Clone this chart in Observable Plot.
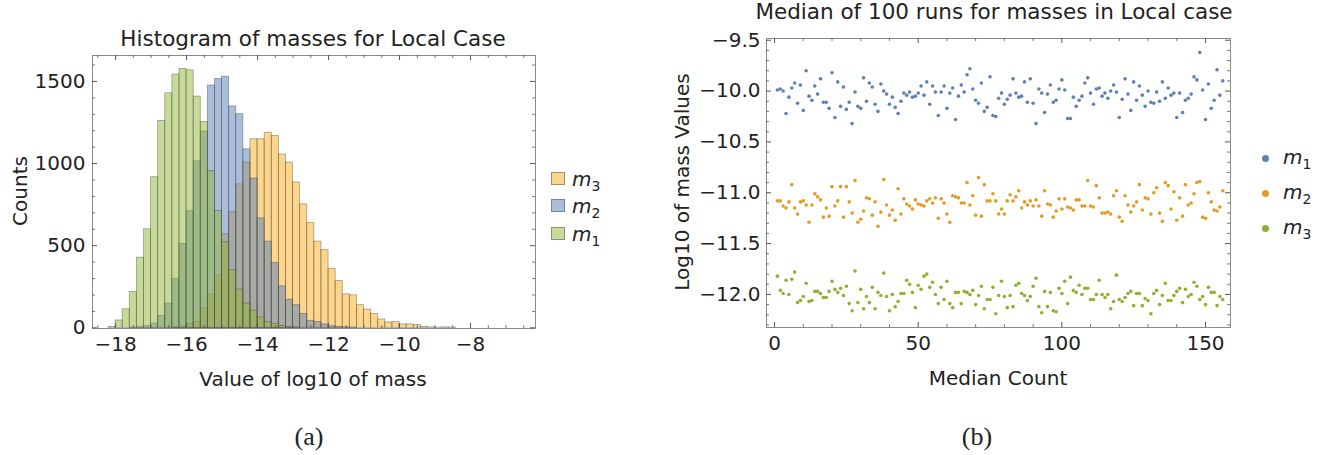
<!DOCTYPE html>
<html><head><meta charset="utf-8">
<script src="https://cdn.jsdelivr.net/npm/d3@7"></script>
<script src="https://cdn.jsdelivr.net/npm/@observablehq/plot@0.6"></script>
<style>
body{margin:0;background:#fff;width:1335px;height:455px;position:relative;overflow:hidden;font-family:"DejaVu Sans",Verdana,sans-serif;color:#222}
.abs{position:absolute;white-space:nowrap;line-height:1}
.t{font-size:20px}
.ttl{font-size:21.5px}
.cap{font-family:"Liberation Serif","DejaVu Serif",serif;font-size:26px}
.sw{position:absolute;width:14px;height:13px;box-sizing:border-box;border:1px solid rgba(60,60,60,0.45)}
.dot{position:absolute;width:7px;height:7px;border-radius:50%}
sub{font-size:14px;vertical-align:-5px;font-style:normal}
</style></head>
<body>
<div id="left" class="abs" style="left:0;top:0"></div>
<div id="right" class="abs" style="left:640px;top:0"></div>

<div class="abs ttl" style="left:313px;top:28px;transform:translateX(-50%)">Histogram of masses for Local Case</div>
<div class="abs t" style="left:313px;top:369px;transform:translateX(-50%)">Value of log10 of mass</div>
<div class="abs t" style="left:20px;top:191px;transform:translate(-50%,-50%) rotate(-90deg)">Counts</div>

<div class="abs ttl" style="left:994px;top:1px;transform:translateX(-50%)">Median of 100 runs for masses in Local case</div>
<div class="abs t" style="left:998px;top:368px;transform:translateX(-50%)">Median Count</div>
<div class="abs t" style="left:682px;top:182px;transform:translate(-50%,-50%) rotate(-90deg)">Log10 of mass Values</div>

<div id="legA"></div>
<div id="legB"></div>

<div class="abs cap" style="left:309px;top:437px;transform:translate(-50%,-50%)">(a)</div>
<div class="abs cap" style="left:977px;top:437px;transform:translate(-50%,-50%)">(b)</div>

<script>
// ---------- Panel (a): histogram ----------
const binStart = [-18.4,-18.2,-18.0,-17.8,-17.6,-17.4,-17.2,-17.0,-16.8,-16.6,-16.4,-16.2,-16.0,-15.8,-15.6,-15.4,-15.2,-15.0,-14.8,-14.6,-14.4,-14.2,-14.0,-13.8,-13.6,-13.4,-13.2,-13.0,-12.8,-12.6,-12.4,-12.2,-12.0,-11.8,-11.6,-11.4,-11.2,-11.0,-10.8,-10.6,-10.4,-10.2,-10.0,-9.8,-9.6,-9.4,-9.2,-9.0,-8.8,-8.6];
const binWidth = 0.2;
const histM1 = [0,5,45,113,218,427,600,917,1260,1428,1542,1576,1568,1408,1253,954,711,521,350,233,148,105,63,36,25,12,5,2,0,0,0,0,0,0,0,0,0,0,0,0,0,0,0,0,0,0,0,0,0,0];
const histM2 = [0,0,0,0,2,5,12,26,73,148,299,511,711,1014,1196,1475,1515,1529,1348,1301,1087,909,667,525,394,253,172,138,85,43,36,21,10,6,3,2,0,0,0,0,0,0,0,0,0,0,0,0,0,0];
const histM3 = [0,0,0,0,0,0,0,0,0,0,5,10,25,36,118,202,319,570,707,873,1006,1148,1148,1188,1168,1055,1006,885,752,639,525,473,360,285,204,198,138,111,85,51,33,35,21,21,17,6,3,2,3,2];
const histSeries = ["m3","m2","m1"];
const histColors = {m3:"#FBAD19", m2:"#557DB9", m1:"#91B531"};
const histPale = {m3:"#FDD68C", m2:"#AABEDC", m1:"#C8DA98"};

const histTicksX = [-18,-16,-14,-12,-10,-8];
const histTicksY = [0,500,1000,1500];

// ---------- Panel (b): scatter ----------
const medM1 = [-9.99,-9.98,-10.00,-10.22,-10.06,-9.97,-9.92,-10.12,-9.94,-10.19,
-9.80,-10.05,-10.09,-9.95,-10.03,-9.88,-10.11,-10.11,-10.17,-9.82,
-10.26,-9.91,-10.15,-9.96,-10.18,-10.11,-10.32,-10.01,-10.15,-10.17,
-9.87,-10.10,-9.92,-9.96,-10.13,-10.20,-9.93,-10.00,-10.03,-10.13,
-10.06,-10.16,-10.22,-10.10,-10.02,-10.04,-10.01,-10.06,-10.05,-10.02,
-9.95,-10.04,-9.91,-10.13,-9.95,-10.01,-10.24,-10.01,-9.95,-10.17,
-10.02,-9.97,-10.28,-10.05,-9.94,-10.01,-9.84,-9.78,-9.98,-10.09,
-10.12,-9.92,-10.20,-10.16,-9.86,-10.24,-10.25,-10.07,-10.02,-10.13,
-10.08,-10.04,
-9.88,-10.02,-10.06,-10.05,-9.91,-10.11,-9.88,-10.12,-10.32,-9.98,
-10.02,-10.21,-10.03,-9.94,-10.11,-10.09,-9.98,-9.89,-9.99,-10.27,
-10.27,-10.06,-10.15,-10.09,-10.05,-9.92,-9.87,-10.02,-10.13,-9.98,
-9.97,-10.05,-10.02,-10.07,-10.00,-9.94,-10.01,-10.26,-10.08,-9.88,
-10.03,-10.19,-9.91,-10.09,-9.95,-10.04,-10.15,-10.00,-10.11,-10.12,
-10.01,-10.10,-9.91,-10.07,-9.97,-10.04,-10.02,-10.26,-10.02,-10.21,
-10.09,-10.07,-10.03,-9.86,-9.89,-9.62,-9.99,-10.28,-9.93,-10.17,
-10.09,-9.79,-10.04,-9.90];
const medM2 = [-11.08,-11.08,-11.13,-11.15,-11.09,-10.92,-11.15,-11.21,-11.09,-11.08,
-11.12,-11.29,-11.12,-11.01,-11.04,-11.07,-11.24,-11.15,-11.23,-10.94,
-11.13,-11.08,-10.94,-11.24,-10.94,-11.09,-11.20,-10.88,-11.29,-11.26,
-11.18,-11.05,-11.06,-11.22,-11.09,-11.33,-11.19,-10.87,-11.12,-11.22,
-11.17,-11.27,-10.96,-11.21,-11.06,-11.11,-11.13,-11.16,-11.07,-11.11,
-11.12,-11.13,-11.08,-11.06,-11.10,-11.05,-11.25,-11.06,-11.10,-11.21,
-11.29,-11.03,-11.04,-11.05,-11.10,-11.10,-10.90,-11.12,-11.03,-11.22,
-10.85,-11.23,-10.92,-11.08,-11.08,-11.01,-11.08,-11.21,-11.16,-11.21,
-11.08,-11.02,
-11.08,-11.04,-10.98,-11.15,-11.09,-11.12,-11.08,-11.13,-11.07,-11.13,
-11.23,-10.98,-11.11,-11.12,-11.24,-11.18,-11.06,-11.16,-11.06,-11.14,
-11.15,-11.17,-11.07,-11.07,-11.13,-11.13,-10.88,-11.13,-11.14,-10.93,
-11.05,-11.20,-11.20,-11.19,-11.21,-11.03,-10.98,-11.24,-11.28,-11.03,
-11.12,-11.19,-11.13,-11.09,-10.92,-11.17,-11.05,-11.06,-11.21,-11.00,
-10.95,-11.20,-11.28,-10.90,-10.93,-11.16,-10.99,-11.27,-11.05,-11.23,
-10.92,-11.12,-11.10,-11.01,-10.90,-10.89,-11.24,-11.25,-11.00,-11.09,
-11.17,-11.18,-11.14,-10.98];
const medM3 = [-11.82,-11.96,-11.99,-11.86,-12.00,-11.85,-11.78,-12.08,-12.06,-12.02,
-11.89,-12.07,-12.06,-11.97,-11.97,-11.99,-12.03,-12.03,-11.97,-11.87,
-11.95,-11.98,-11.94,-12.01,-11.92,-12.09,-12.16,-11.77,-12.08,-11.95,
-12.14,-12.02,-12.08,-11.93,-12.14,-11.98,-12.01,-11.79,-12.02,-12.16,
-12.00,-12.12,-12.07,-11.99,-11.99,-11.86,-11.90,-11.98,-12.13,-11.91,
-11.95,-11.82,-11.80,-11.93,-11.88,-12.00,-12.09,-11.93,-12.05,-11.87,
-12.09,-12.13,-11.98,-11.98,-12.09,-11.97,-11.98,-12.00,-11.96,-12.10,
-12.01,-11.92,-12.14,-12.05,-12.05,-11.93,-12.19,-12.01,-11.87,-12.02,
-12.13,-12.01,
-12.12,-11.91,-11.89,-11.99,-12.01,-12.06,-12.02,-11.92,-11.84,-12.12,
-12.18,-11.97,-12.12,-11.98,-12.16,-12.17,-11.94,-11.99,-11.87,-12.09,
-11.83,-11.96,-11.98,-11.91,-12.00,-11.94,-11.94,-12.05,-12.05,-12.00,
-11.86,-12.00,-12.03,-12.00,-12.14,-12.07,-11.81,-12.05,-12.07,-12.03,
-11.99,-11.97,-12.11,-11.99,-11.99,-12.11,-12.04,-12.06,-12.19,-11.99,
-11.96,-12.10,-12.01,-11.89,-12.06,-12.06,-12.01,-11.97,-11.94,-12.08,
-11.95,-12.02,-12.00,-11.88,-11.92,-12.05,-12.02,-12.10,-11.93,-11.98,
-11.98,-12.11,-12.02,-12.05];
const medSeries = ["m1","m2","m3"];
const medColors = {m1:"#5E81B5", m2:"#E19C24", m3:"#8FB032"};
const medTicksX = [0,50,100,150];
const medTicksY = [-12.0,-11.5,-11.0,-10.5,-10.0,-9.5];

// ---------- helpers ----------
const FONT = '"DejaVu Sans",Verdana,sans-serif';
const frameColor = "#8a8a8a", tickColor = "#555";
function frameTicks(major, minor, dim, fw, fh, L, S) {
  const R = dim === "x" ? Plot.ruleX : Plot.ruleY;
  const a = dim === "x" ? "insetTop" : "insetRight";
  const b = dim === "x" ? "insetBottom" : "insetLeft";
  const span = dim === "x" ? fh : fw;
  return [
    R(major, {[a]: span - L, stroke: tickColor, strokeWidth: 1}),
    R(major, {[b]: span - L, stroke: tickColor, strokeWidth: 1}),
    R(minor, {[a]: span - S, stroke: tickColor, strokeWidth: 0.8}),
    R(minor, {[b]: span - S, stroke: tickColor, strokeWidth: 0.8})
  ];
}
const fmtInt = d3.format("d"), fmt1 = d3.format(".1f");

// ---------- build panel (a) ----------
{
  const W = 545, H = 400, mL = 92, mR = 10, mT = 55, mB = 72;
  const fw = W - mL - mR, fh = H - mT - mB;
  const xDom = [-18.65, -6.17], yDom = [-4, 1658];
  const counts = {m1: histM1, m2: histM2, m3: histM3};
  const rows = s => binStart.map((b, i) => ({x1: b, x2: b + binWidth, y: counts[s][i]})).filter(d => d.y > 0);
  const minorX = d3.range(-18.5, -6.2, 0.5).filter(v => !histTicksX.includes(Math.round(v*10)/10));
  const minorY = d3.range(100, 1700, 100).filter(v => v % 500 !== 0);
  const chart = Plot.plot({
    width: W, height: H, marginLeft: mL, marginRight: mR, marginTop: mT, marginBottom: mB,
    x: {domain: xDom, label: null},
    y: {domain: yDom, label: null},
    style: {fontFamily: FONT, fontSize: "20px", color: "#222", background: "transparent", overflow: "visible"},
    marks: [
      ...histSeries.map(s => Plot.rect(rows(s), {x1: "x1", x2: "x2", y1: () => 0, y2: "y",
        fill: histColors[s], fillOpacity: 0.5, stroke: "#3a3a3a", strokeOpacity: 0.45, strokeWidth: 0.8})),
      Plot.frame({stroke: frameColor}),
      ...frameTicks(histTicksX, minorX, "x", fw, fh, 5, 3),
      ...frameTicks(histTicksY, minorY, "y", fw, fh, 5, 3),
      Plot.axisX(histTicksX, {tickSize: 0, tickPadding: 8, tickFormat: fmtInt, label: null, fill: "#222"}),
      Plot.axisY(histTicksY, {tickSize: 0, tickPadding: 7, tickFormat: fmtInt, label: null, fill: "#222"})
    ]
  });
  document.getElementById("left").appendChild(chart);

  const leg = document.getElementById("legA");
  const items = [["m3", 172], ["m2", 199], ["m1", 227]];
  items.forEach(([s, top]) => {
    const sw = document.createElement("div");
    sw.className = "sw"; sw.style.left = "551px"; sw.style.top = top + "px"; sw.style.background = histPale[s];
    leg.appendChild(sw);
    const t = document.createElement("div");
    t.className = "abs t"; t.style.left = "572px"; t.style.top = (top - 3) + "px";
    t.innerHTML = `<i>m</i><sub>${s.slice(1)}</sub>`;
    leg.appendChild(t);
  });
}

// ---------- build panel (b) ----------
{
  const W = 600, H = 400, mL = 126, mR = 10, mT = 38, mB = 73;
  const fw = W - mL - mR, fh = H - mT - mB;
  const xDom = [-2.8, 158.7], yDom = [-12.325, -9.483];
  const vals = {m1: medM1, m2: medM2, m3: medM3};
  const pts = s => vals[s].map((v, i) => ({x: i + 1, y: v}));
  const minorX = d3.range(10, 160, 10).filter(v => v % 50 !== 0);
  const minorY = d3.range(-12.3, -9.45, 0.1).map(v => Math.round(v*10)/10).filter(v => !medTicksY.includes(v));
  const chart = Plot.plot({
    width: W, height: H, marginLeft: mL, marginRight: mR, marginTop: mT, marginBottom: mB,
    x: {domain: xDom, label: null},
    y: {domain: yDom, label: null},
    style: {fontFamily: FONT, fontSize: "20px", color: "#222", background: "transparent", overflow: "visible"},
    marks: [
      Plot.frame({stroke: frameColor}),
      ...frameTicks(medTicksX, minorX, "x", fw, fh, 5, 3),
      ...frameTicks(medTicksY, minorY, "y", fw, fh, 5, 3),
      ...medSeries.map(s => Plot.dot(pts(s), {x: "x", y: "y", r: 1.8, fill: medColors[s], stroke: null})),
      Plot.axisX(medTicksX, {tickSize: 0, tickPadding: 8, tickFormat: fmtInt, label: null, fill: "#222"}),
      Plot.axisY(medTicksY, {tickSize: 0, tickPadding: 6, tickFormat: fmt1, label: null, fill: "#222"})
    ]
  });
  document.getElementById("right").appendChild(chart);

  const leg = document.getElementById("legB");
  const items = [["m1", 158], ["m2", 193], ["m3", 228]];
  items.forEach(([s, cy]) => {
    const d = document.createElement("div");
    d.className = "dot"; d.style.left = "1262px"; d.style.top = (cy - 3.5) + "px"; d.style.background = medColors[s];
    leg.appendChild(d);
    const t = document.createElement("div");
    t.className = "abs t"; t.style.left = "1283px"; t.style.top = (cy - 11) + "px";
    t.innerHTML = `<i>m</i><sub>${s.slice(1)}</sub>`;
    leg.appendChild(t);
  });
}
</script>
</body></html>
